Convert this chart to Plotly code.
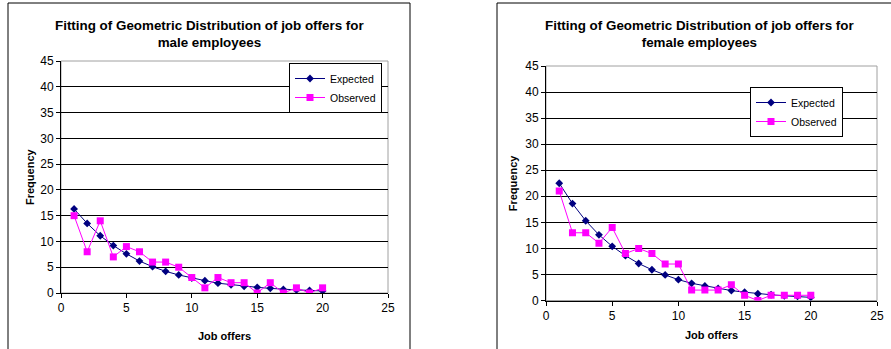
import plotly.graph_objects as go

job_offers = list(range(1, 21))
male_expected = [16.3, 13.5, 11.1, 9.2, 7.6, 6.2, 5.1, 4.2, 3.5, 2.9,
                 2.4, 1.9, 1.6, 1.3, 1.1, 0.9, 0.7, 0.6, 0.5, 0.4]
male_observed = [15, 8, 14, 7, 9, 8, 6, 6, 5, 3, 1, 3, 2, 2, 0, 2, 0, 1, 0, 1]
female_expected = [22.5, 18.6, 15.3, 12.6, 10.4, 8.6, 7.1, 5.9, 4.9, 4.0,
                   3.3, 2.8, 2.3, 1.9, 1.6, 1.3, 1.1, 0.9, 0.8, 0.6]
female_observed = [21, 13, 13, 11, 14, 9, 10, 9, 7, 7, 2, 2, 2, 3, 1, 0, 1, 1, 1, 1]

titles = ["Fitting of Geometric Distribution of job offers for<br>male employees",
          "Fitting of Geometric Distribution of job offers for<br>female employees"]

W, H = 891, 349
FONT = "Arial, Liberation Sans, sans-serif"
NAVY = "#000080"
MAGENTA = "#FF00FF"

fig = go.Figure()

def px_x(p):
    return p / W

def px_y(p):
    return 1 - p / H

panels = [
    dict(pl=61, pr=388, pt=61, pb=293, fl=8, fr=410, cx=209, leg=(382, 63), ytx=30, xty=336),
    dict(pl=546, pr=877, pt=66, pb=300.5, fl=497, fr=905, cx=699, leg=(843, 87), ytx=513, xty=335),
]
data = [(male_expected, male_observed), (female_expected, female_observed)]

for i, (p, (exp, obs)) in enumerate(zip(panels, data)):
    sfx = "" if i == 0 else "2"
    xa, ya = "x" + sfx, "y" + sfx
    lg = "legend" if i == 0 else "legend2"
    fig.add_trace(go.Scatter(x=job_offers, y=exp, mode="lines+markers", name="Expected",
                             line=dict(color=NAVY, width=1),
                             marker=dict(symbol="diamond", size=6, color=NAVY),
                             xaxis=xa, yaxis=ya, legend=lg))
    fig.add_trace(go.Scatter(x=job_offers, y=obs, mode="lines+markers", name="Observed",
                             line=dict(color=MAGENTA, width=1),
                             marker=dict(symbol="square", size=7, color=MAGENTA),
                             xaxis=xa, yaxis=ya, legend=lg))
    axis_common = dict(showline=True, linecolor="black", linewidth=1, ticks="outside",
                       ticklen=4, tickcolor="black", automargin=False,
                       tickfont=dict(family=FONT, size=12, color="black"),
                       zeroline=False)
    fig.layout["xaxis" + sfx] = dict(domain=[px_x(p["pl"]), px_x(p["pr"])], range=[0, 25], dtick=5,
                                    showgrid=False, anchor=ya, **axis_common)
    fig.layout["yaxis" + sfx] = dict(domain=[px_y(p["pb"]), px_y(p["pt"])], range=[0, 45], dtick=5,
                                    showgrid=True, gridcolor="black", gridwidth=1, anchor=xa,
                                    **axis_common)
    fig.add_shape(type="rect", xref="paper", yref="paper",
                  x0=px_x(p["pl"]), x1=px_x(p["pr"]), y0=px_y(p["pb"]), y1=px_y(p["pt"]),
                  line=dict(color="#a0a0a0", width=1), layer="below")
    fig.add_shape(type="rect", xref="paper", yref="paper",
                  x0=px_x(p["fl"]), x1=px_x(p["fr"]), y0=-0.1, y1=px_y(3),
                  line=dict(color="black", width=1))
    fig.add_annotation(text="<b>" + titles[i] + "</b>", xref="paper", yref="paper",
                       x=px_x(p["cx"]), y=px_y(34), xanchor="center", yanchor="middle",
                       showarrow=False, font=dict(family=FONT, size=13.4, color="black"))
    fig.add_annotation(text="<b>Frequency</b>", xref="paper", yref="paper",
                       x=px_x(p["ytx"]), y=px_y((p["pt"] + p["pb"]) / 2), textangle=-90,
                       xanchor="center", yanchor="middle", showarrow=False,
                       font=dict(family=FONT, size=11, color="black"))
    fig.add_annotation(text="<b>Job offers</b>", xref="paper", yref="paper",
                       x=px_x((p["pl"] + p["pr"]) / 2), y=px_y(p["xty"]),
                       xanchor="center", yanchor="middle", showarrow=False,
                       font=dict(family=FONT, size=11, color="black"))
    fig.layout[lg] = dict(x=px_x(p["leg"][0]), y=px_y(p["leg"][1]), xanchor="right", yanchor="top",
                          bgcolor="white", bordercolor="black", borderwidth=1,
                          font=dict(family=FONT, size=10.5, color="black"),
                          itemsizing="trace", tracegroupgap=0, itemwidth=30)

fig.update_layout(template="none", width=W, height=H, autosize=False,
                  margin=dict(l=0, r=0, t=0, b=0, pad=0, autoexpand=False),
                  paper_bgcolor="white", plot_bgcolor="white",
                  font=dict(family=FONT, color="black"))

fig.write_html("out.html", config={"displayModeBar": False},
               post_script="document.body.style.margin='0';document.body.style.overflow='hidden';")
